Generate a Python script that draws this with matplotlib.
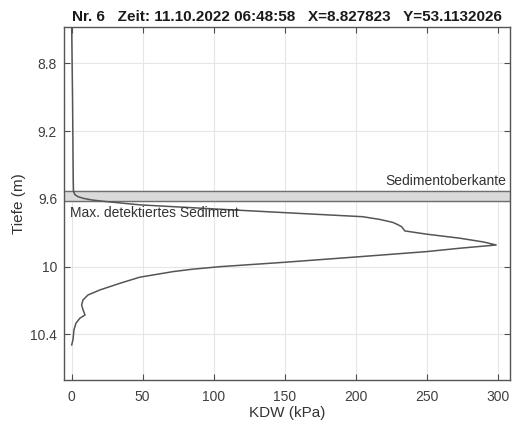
import matplotlib
matplotlib.use("Agg")
import matplotlib.pyplot as plt
import numpy as np

plt.rcParams['font.family'] = ['Liberation Sans', 'DejaVu Sans']

# Penetration profile: pressure (kPa) against depth (m)
depth_m = [8.586, 8.80, 9.00, 9.20, 9.40, 9.49, 9.530, 9.558, 9.575, 9.588,
           9.598, 9.607, 9.615, 9.636, 9.666, 9.706, 9.722, 9.739, 9.752, 9.765,
           9.790, 9.809, 9.833, 9.855, 9.873, 9.892, 9.912, 9.942, 9.975,
           10.001, 10.016, 10.030, 10.063, 10.099, 10.138, 10.168, 10.197,
           10.227, 10.256, 10.286, 10.305, 10.335, 10.374, 10.416, 10.433,
           10.463]
kdw_kpa = [0.0, 0.3, 0.6, 0.8, 1.0, 1.1, 1.2, 1.3, 2.2, 4.5,
           8.5, 14.0, 22.3, 48.0, 113.6, 205.0, 217.0, 226.0, 229.5, 232.4,
           234.7, 250.0, 273.5, 290.0, 299.0, 273.5, 250.0, 203.0, 150.0,
           104.4, 85.0, 71.5, 48.0, 34.0, 20.0, 11.5, 8.0,
           7.0, 8.0, 9.4, 5.8, 3.0, 1.6, 1.1, 0.9,
           0.0]

# Sediment band limits (m)
sediment_top = 9.552
sediment_max = 9.613

title = "Nr. 6   Zeit: 11.10.2022 06:48:58   X=8.827823   Y=53.1132026"
x_ticks = [0, 50, 100, 150, 200, 250, 300]
y_ticks = [8.8, 9.2, 9.6, 10.0, 10.4]
y_tick_labels = ["8.8", "9.2", "9.6", "10", "10.4"]

fig = plt.figure(figsize=(5.13, 4.26), dpi=100)
ax = fig.add_axes([0.1248, 0.108, 0.8692, 0.8286])

xlim = (-5.4, 308.7)
ax.fill_between(xlim, sediment_top, sediment_max, color="#dadada", zorder=1)
ax.axhline(sediment_top, color="#6e6e6e", lw=1.0, zorder=2)
ax.axhline(sediment_max, color="#6e6e6e", lw=1.0, zorder=2)

ax.plot(kdw_kpa, depth_m, color="#555555", lw=1.1, zorder=3)

ax.text(306.0, 9.494, "Sedimentoberkante", ha="right", va="center",
        fontsize=10, color="#333333", zorder=4)
ax.text(-1.0, 9.684, "Max. detektiertes Sediment", ha="left", va="center",
        fontsize=10, color="#333333", zorder=4)

ax.set_xlim(*xlim)
ax.set_ylim(10.670, 8.586)
ax.set_xticks(x_ticks)
ax.set_yticks(y_ticks)
ax.set_yticklabels(y_tick_labels)

ax.grid(True, color="#e6e6e6", lw=0.8, zorder=0)
ax.set_axisbelow(True)
ax.tick_params(direction="in", top=True, right=True, length=4, width=0.8,
               color="#4d4d4d", labelsize=10, labelcolor="#404040", pad=5)
ax.tick_params(axis="x", pad=7)
for s in ax.spines.values():
    s.set_color("#555555")
    s.set_linewidth(1.0)

ax.set_xlabel("KDW (kPa)", fontsize=11, color="#333333", labelpad=2)
ax.set_ylabel("Tiefe (m)", fontsize=11, color="#333333", labelpad=3)
ax.set_title(title, fontsize=11, fontweight="bold", color="#1a1a1a", pad=4)

fig.savefig("out.png", dpi=100)
